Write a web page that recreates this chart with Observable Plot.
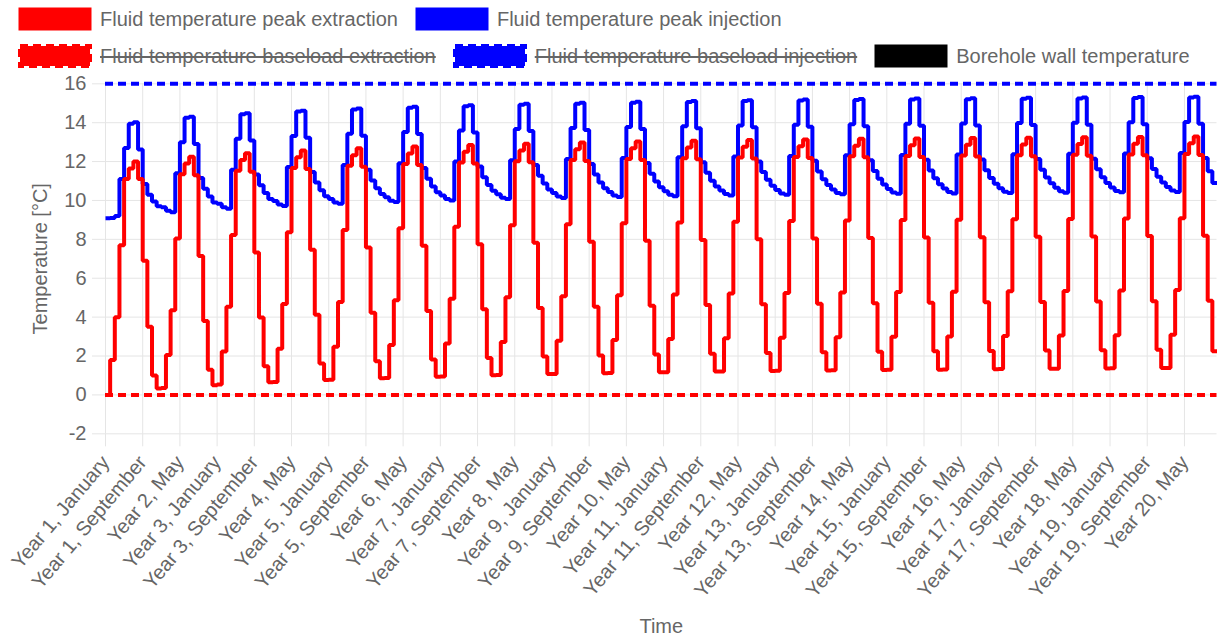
<!DOCTYPE html>
<html><head><meta charset="utf-8">
<script src="https://cdn.jsdelivr.net/npm/d3@7"></script>
<script src="https://cdn.jsdelivr.net/npm/@observablehq/plot@0.6"></script>
<style>
body{margin:0;background:#fff;font-family:"Liberation Sans",Arial,sans-serif;}
#legend{position:relative;width:1217px;height:76px;}
.row{position:absolute;left:20px;display:flex;align-items:center;height:22px;font-size:20px;color:#666;white-space:nowrap}
.item{display:flex;align-items:center;margin-right:19px}
.item svg{margin-right:10px;overflow:visible;display:block}
.hidden{text-decoration:line-through}
#chart svg{display:block}
</style></head><body>
<div id="legend"></div>
<div id="chart"></div>
<script>
const months = ["January","February","March","April","May","June","July","August","September","October","November","December"];
const nYears = 20;

// Fluid temperature peak extraction, one row of 12 monthly values per year
const peakExtraction = [
 [0, 1.8, 4.0, 7.7, 11.1, 11.65, 12.0, 11.1, 6.9, 3.5, 1.0, 0.33],
 [0.35, 2.05, 4.35, 8.05, 11.35, 11.9, 12.25, 11.3, 7.15, 3.8, 1.3, 0.5],
 [0.53, 2.23, 4.53, 8.23, 11.53, 12.08, 12.43, 11.48, 7.33, 3.98, 1.48, 0.65],
 [0.67, 2.37, 4.67, 8.37, 11.67, 12.22, 12.57, 11.62, 7.47, 4.12, 1.62, 0.77],
 [0.78, 2.48, 4.78, 8.48, 11.78, 12.33, 12.68, 11.73, 7.58, 4.23, 1.73, 0.86],
 [0.87, 2.57, 4.87, 8.57, 11.87, 12.42, 12.77, 11.82, 7.67, 4.32, 1.82, 0.94],
 [0.95, 2.65, 4.95, 8.65, 11.95, 12.5, 12.85, 11.9, 7.75, 4.4, 1.9, 1.01],
 [1.02, 2.72, 5.02, 8.72, 12.02, 12.57, 12.92, 11.97, 7.82, 4.47, 1.97, 1.07],
 [1.08, 2.78, 5.08, 8.78, 12.08, 12.63, 12.98, 12.03, 7.88, 4.53, 2.03, 1.12],
 [1.13, 2.83, 5.13, 8.83, 12.13, 12.68, 13.03, 12.08, 7.93, 4.58, 2.08, 1.16],
 [1.17, 2.87, 5.17, 8.87, 12.17, 12.72, 13.07, 12.12, 7.97, 4.62, 2.12, 1.2],
 [1.21, 2.91, 5.21, 8.91, 12.21, 12.76, 13.11, 12.16, 8.01, 4.66, 2.16, 1.23],
 [1.24, 2.94, 5.24, 8.94, 12.24, 12.79, 13.14, 12.19, 8.04, 4.69, 2.19, 1.26],
 [1.27, 2.97, 5.27, 8.97, 12.27, 12.82, 13.17, 12.22, 8.07, 4.72, 2.22, 1.28],
 [1.29, 2.99, 5.29, 8.99, 12.29, 12.84, 13.19, 12.24, 8.09, 4.74, 2.24, 1.3],
 [1.31, 3.01, 5.31, 9.01, 12.31, 12.86, 13.21, 12.26, 8.11, 4.76, 2.26, 1.32],
 [1.33, 3.03, 5.33, 9.03, 12.33, 12.88, 13.23, 12.28, 8.13, 4.78, 2.28, 1.34],
 [1.35, 3.05, 5.35, 9.05, 12.35, 12.9, 13.25, 12.3, 8.15, 4.8, 2.3, 1.36],
 [1.37, 3.07, 5.37, 9.07, 12.37, 12.92, 13.27, 12.32, 8.17, 4.82, 2.32, 1.38],
 [1.39, 3.09, 5.39, 9.09, 12.39, 12.94, 13.29, 12.34, 8.19, 4.84, 2.25, 2.2]
];

// Fluid temperature peak injection, one row of 12 monthly values per year
const peakInjection = [
 [9.08, 9.1, 9.2, 11.1, 12.7, 13.95, 14.02, 12.62, 10.85, 10.3, 9.95, 9.7],
 [9.65, 9.47, 9.4, 11.4, 13.0, 14.25, 14.3, 12.9, 11.15, 10.6, 10.2, 9.9],
 [9.83, 9.65, 9.58, 11.58, 13.18, 14.43, 14.48, 13.08, 11.33, 10.78, 10.38, 10.08],
 [9.97, 9.79, 9.72, 11.72, 13.32, 14.57, 14.62, 13.22, 11.47, 10.92, 10.52, 10.22],
 [10.08, 9.9, 9.83, 11.83, 13.43, 14.68, 14.73, 13.33, 11.58, 11.03, 10.63, 10.33],
 [10.17, 9.99, 9.92, 11.92, 13.52, 14.77, 14.82, 13.42, 11.67, 11.12, 10.72, 10.42],
 [10.25, 10.07, 10.0, 12.0, 13.6, 14.85, 14.9, 13.5, 11.75, 11.2, 10.8, 10.5],
 [10.32, 10.14, 10.07, 12.07, 13.67, 14.92, 14.97, 13.57, 11.82, 11.27, 10.87, 10.57],
 [10.38, 10.2, 10.13, 12.13, 13.73, 14.98, 15.03, 13.63, 11.88, 11.33, 10.93, 10.63],
 [10.43, 10.25, 10.18, 12.18, 13.78, 15.03, 15.08, 13.68, 11.93, 11.38, 10.98, 10.68],
 [10.47, 10.29, 10.22, 12.22, 13.82, 15.07, 15.12, 13.72, 11.97, 11.42, 11.02, 10.72],
 [10.51, 10.33, 10.26, 12.26, 13.86, 15.11, 15.16, 13.76, 12.01, 11.46, 11.06, 10.76],
 [10.54, 10.36, 10.29, 12.29, 13.89, 15.14, 15.19, 13.79, 12.04, 11.49, 11.09, 10.79],
 [10.57, 10.39, 10.32, 12.32, 13.92, 15.17, 15.22, 13.82, 12.07, 11.52, 11.12, 10.82],
 [10.59, 10.41, 10.34, 12.34, 13.94, 15.19, 15.24, 13.84, 12.09, 11.54, 11.14, 10.84],
 [10.61, 10.43, 10.36, 12.36, 13.96, 15.21, 15.26, 13.86, 12.11, 11.56, 11.16, 10.86],
 [10.63, 10.45, 10.38, 12.38, 13.98, 15.23, 15.28, 13.88, 12.13, 11.58, 11.18, 10.88],
 [10.65, 10.47, 10.4, 12.4, 14.0, 15.25, 15.3, 13.9, 12.15, 11.6, 11.2, 10.9],
 [10.67, 10.49, 10.42, 12.42, 14.02, 15.27, 15.32, 13.92, 12.17, 11.62, 11.22, 10.92],
 [10.69, 10.51, 10.44, 12.44, 14.04, 15.29, 15.34, 13.94, 12.19, 11.5, 10.9, 10.85]
];

// Limit lines (dashed)
const limitMin = 0;
const limitMax = 16;

const yTicks = [-2, 0, 2, 4, 6, 8, 10, 12, 14, 16];
const tickLabels = [
 "Year 1, January","Year 1, September","Year 2, May","Year 3, January","Year 3, September","Year 4, May",
 "Year 5, January","Year 5, September","Year 6, May","Year 7, January","Year 7, September","Year 8, May",
 "Year 9, January","Year 9, September","Year 10, May","Year 11, January","Year 11, September","Year 12, May",
 "Year 13, January","Year 13, September","Year 14, May","Year 15, January","Year 15, September","Year 16, May",
 "Year 17, January","Year 17, September","Year 18, May","Year 19, January","Year 19, September","Year 20, May"
];

const seriesNames = ["Fluid temperature peak extraction","Fluid temperature peak injection","Fluid temperature baseload extraction","Fluid temperature baseload injection","Borehole wall temperature"];
const seriesColors = ["#ff0000","#0000ff","#ff0000","#0000ff","#000000"];
const seriesDashed = [false,false,true,true,false];
const seriesHidden = [false,false,true,true,false];
const legendRows = [[0,1],[2,3,4]];

// ---- build table
const labels = [];
for (let y = 1; y <= nYears; y++) for (const m of months) labels.push(`Year ${y}, ${m}`);
const redFlat = peakExtraction.flat();
const blueFlat = peakInjection.flat();
const data = labels.map((label, i) => ({i, label, red: redFlat[i], blue: blueFlat[i]}));
const tickPos = tickLabels.map(l => labels.indexOf(l));

// ---- legend
const legend = document.getElementById("legend");
const rowTops = [8, 45];
legendRows.forEach((row, r) => {
  const div = document.createElement("div");
  div.className = "row";
  div.style.top = rowTops[r] + "px";
  row.forEach(k => {
    const item = document.createElement("div");
    item.className = "item";
    const dash = seriesDashed[k] ? ' stroke-dasharray="8,5"' : '';
    item.innerHTML = `<svg width="70" height="20"><rect x="0" y="0" width="70" height="20" fill="${seriesColors[k]}" stroke="${seriesColors[k]}" stroke-width="${seriesDashed[k] ? 4 : 3}"${dash}/></svg><span class="${seriesHidden[k] ? 'hidden' : ''}">${seriesNames[k]}</span>`;
    div.appendChild(item);
  });
  legend.appendChild(div);
});

// ---- chart
const font = '"Liberation Sans", Arial, sans-serif';
const chart = Plot.plot({
  width: 1217,
  height: 563,
  marginTop: 7.3,
  marginBottom: 205.7,
  marginLeft: 105,
  marginRight: 0.5,
  style: {fontFamily: font, fontSize: "20px", background: "#fff", overflow: "visible"},
  x: {type: "linear", domain: [0, labels.length - 1]},
  y: {domain: [-2, 16]},
  marks: [
    Plot.gridY(yTicks, {stroke: "#e5e5e5", strokeOpacity: 1}),
    Plot.gridX(tickPos, {stroke: "#e5e5e5", strokeOpacity: 1}),
    Plot.axisY(yTicks, {tickSize: 13, tickPadding: 6, stroke: "#e5e5e5", strokeOpacity: 1, fill: "#666", label: null, fontSize: 20, tickFormat: d => String(d)}),
    Plot.axisX(tickPos, {tickSize: 13, tickPadding: 12, tickRotate: -50, textAnchor: "end", stroke: "#e5e5e5", strokeOpacity: 1, fill: "#666", label: null, fontSize: 20, tickFormat: i => labels[i]}),
    Plot.ruleY([limitMax], {stroke: "#0000ff", strokeWidth: 4, strokeDasharray: "8,5"}),
    Plot.ruleY([limitMin], {stroke: "#ff0000", strokeWidth: 4, strokeDasharray: "8,5"}),
    Plot.line(data, {x: "i", y: "blue", curve: "step-after", stroke: "#0000ff", strokeWidth: 4, strokeLinejoin: "miter", strokeLinecap: "butt"}),
    Plot.line(data, {x: "i", y: "red", curve: "step-after", stroke: "#ff0000", strokeWidth: 4, strokeLinejoin: "miter", strokeLinecap: "butt"}),
    Plot.text(["Time"], {frameAnchor: "bottom", dy: 199.5, fill: "#666", fontSize: 20}),
    Plot.text(["Temperature [°C]"], {frameAnchor: "left", dx: -65, rotate: -90, textAnchor: "middle", fill: "#666", fontSize: 20})
  ]
});
document.getElementById("chart").appendChild(chart);
</script>
</body></html>
